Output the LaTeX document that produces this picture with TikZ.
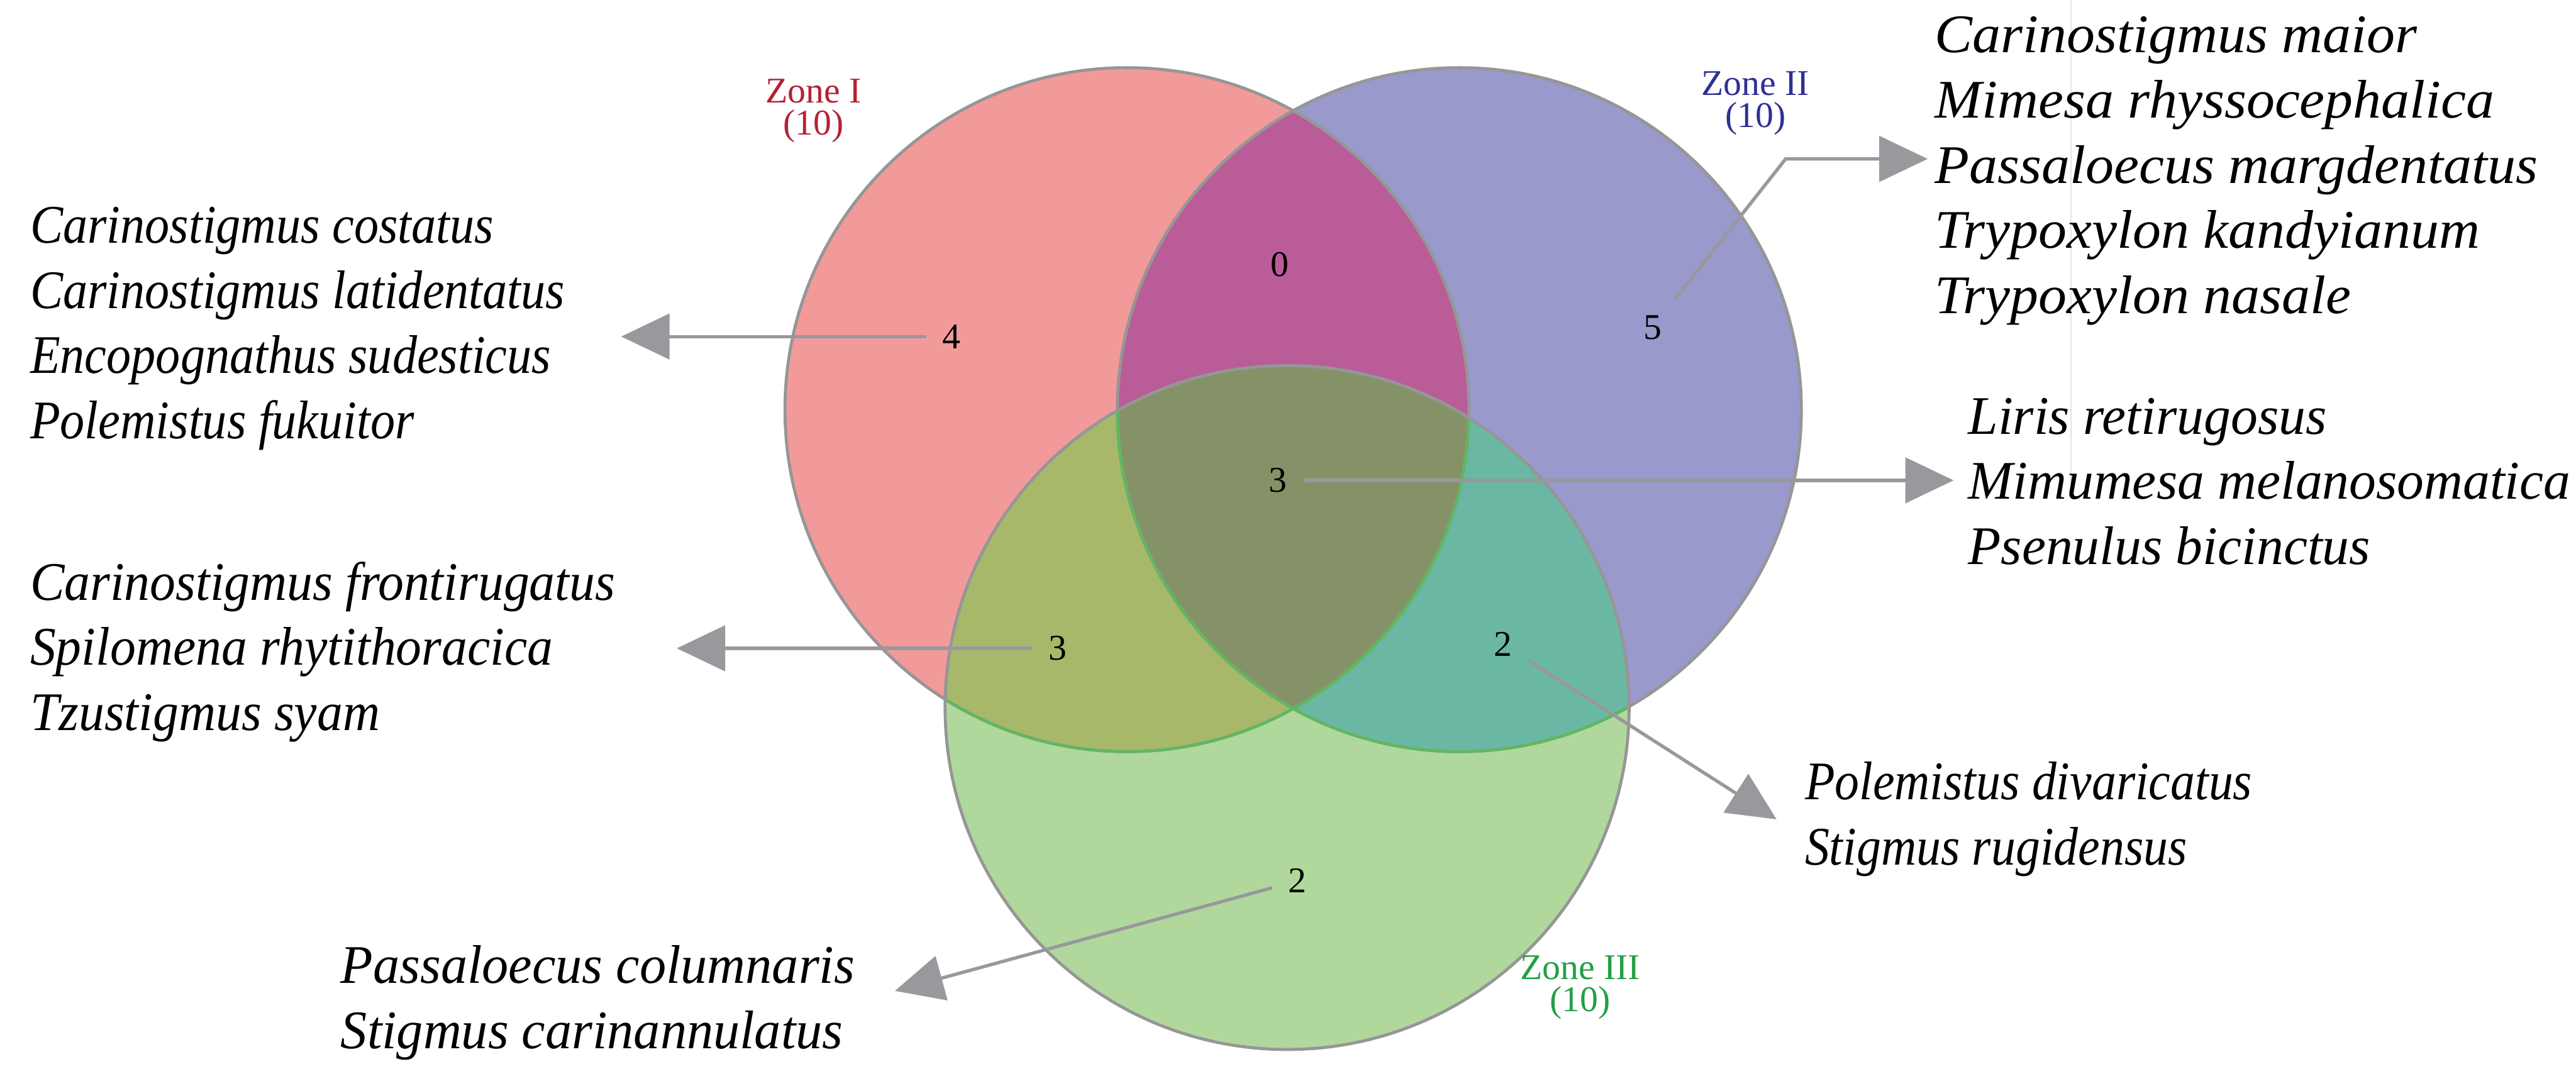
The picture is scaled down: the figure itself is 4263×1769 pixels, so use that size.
\documentclass[tikz,border=0pt]{standalone}
\usepackage{fontspec}
\setmainfont{Liberation Serif}
\newfontfamily\spA[FakeStretch=0.905]{Liberation Serif Italic}
\newfontfamily\spB[FakeStretch=0.945]{Liberation Serif Italic}
\newfontfamily\spC[FakeStretch=0.975]{Liberation Serif Italic}
\newfontfamily\spD[FakeStretch=1.04]{Liberation Serif Italic}
\newfontfamily\spE[FakeStretch=0.99]{Liberation Serif Italic}
\newfontfamily\spF[FakeStretch=0.9]{Liberation Serif Italic}
\usetikzlibrary{arrows.meta}
\definecolor{cRed}{RGB}{242,154,154}
\definecolor{cBlue}{RGB}{153,153,204}
\definecolor{cGreen}{RGB}{176,216,156}
\definecolor{cRB}{RGB}{186,92,152}
\definecolor{cRG}{RGB}{168,184,106}
\definecolor{cBG}{RGB}{106,184,164}
\definecolor{cRBG}{RGB}{133,146,104}
\definecolor{edgeGray}{RGB}{150,150,150}
\definecolor{edgeGreen}{RGB}{98,182,98}
\definecolor{arrowGray}{RGB}{152,152,157}
\definecolor{faintGray}{RGB}{228,228,228}
\definecolor{zRed}{RGB}{178,34,52}
\definecolor{zBlue}{RGB}{46,49,146}
\definecolor{zGreen}{RGB}{34,160,70}
\begin{document}
\begin{tikzpicture}[x=0.1pt,y=-0.1pt,
  num/.style={font=\fontsize{6}{7}\selectfont, inner sep=2.5pt},
  zone/.style={font=\fontsize{6}{5.3}\selectfont, align=center, inner sep=0pt},
  species/.style={font=#1\fontsize{9}{10.8}\selectfont, align=left, anchor=west, inner sep=0pt},
  conn/.style={draw=arrowGray, line width=0.55pt, -{Triangle[length=8pt,width=7.5pt]}},
  outline/.style={line width=0.5pt},
]
\useasboundingbox (0,0) rectangle (4263,1769);
\fill[white] (0,0) rectangle (4263,1769);
\draw[faintGray, line width=0.25pt] (3427,0) -- (3427,800);

\coordinate (cI) at (1865,678);
\coordinate (cII) at (2415,678);
\coordinate (cIII) at (2130,1171);

% single regions
\fill[cRed] (cI) circle[radius=56.6pt];
\fill[cBlue] (cII) circle[radius=56.6pt];
\fill[cGreen] (cIII) circle[radius=56.6pt];
% pairwise overlaps
\begin{scope}
  \clip (cI) circle[radius=56.6pt];
  \fill[cRB] (cII) circle[radius=56.6pt];
  \fill[cRG] (cIII) circle[radius=56.6pt];
\end{scope}
\begin{scope}
  \clip (cII) circle[radius=56.6pt];
  \fill[cBG] (cIII) circle[radius=56.6pt];
\end{scope}
% triple overlap
\begin{scope}
  \clip (cI) circle[radius=56.6pt];
  \clip (cII) circle[radius=56.6pt];
  \fill[cRBG] (cIII) circle[radius=56.6pt];
\end{scope}
% outlines
\draw[edgeGray, outline] (cI) circle[radius=56.6pt] (cII) circle[radius=56.6pt] (cIII) circle[radius=56.6pt];
\begin{scope}
  \clip (cIII) circle[radius=56.3pt];
  \draw[edgeGreen, outline] (cI) circle[radius=56.6pt] (cII) circle[radius=56.6pt];
\end{scope}

% zone labels
\node[zone, text=zRed] (zI) at (1346,183) {Zone I\\(10)};
\node[zone, text=zBlue] (zII) at (2905,171) {Zone II\\(10)};
\node[zone, text=zGreen] (zIII) at (2615,1634) {Zone III\\(10)};

% counts
\node[num] (n0) at (2118,438) {0};
\node[num] (n4) at (1575,557) {4};
\node[num] (n5) at (2735,542) {5};
\node[num] (n3c) at (2115,795) {3};
\node[num] (n3l) at (1750,1073) {3};
\node[num] (n2r) at (2487,1066) {2};
\node[num] (n2b) at (2147,1458) {2};

% species lists
\node[species=\spA] (lA) at (48,544) {Carinostigmus costatus\\Carinostigmus latidentatus\\Encopognathus sudesticus\\Polemistus fukuitor};
\node[species=\spB] (lB) at (48,1079) {Carinostigmus frontirugatus\\Spilomena rhytithoracica\\Tzustigmus syam};
\node[species=\spC] (lC) at (562,1660) {Passaloecus columnaris\\Stigmus carinannulatus};
\node[species=\spD] (lD) at (3200,283) {Carinostigmus maior\\Mimesa rhyssocephalica\\Passaloecus margdentatus\\Trypoxylon kandyianum\\Trypoxylon nasale};
\node[species=\spE] (lE) at (3255,797) {Liris retirugosus\\Mimumesa melanosomatica\\Psenulus bicinctus};
\node[species=\spF] (lF) at (2985,1356) {Polemistus divaricatus\\Stigmus rugidensus};

% arrow tips and bend
\coordinate (tA) at (1028,557);
\coordinate (tB) at (1120,1073);
\coordinate (tC) at (1481,1640);
\coordinate (b5) at (2955,263);
\coordinate (tD) at (3190,263);
\coordinate (tE) at (3233,795);
\coordinate (tF) at (2940,1356);

\draw[conn] (n4) -- (tA);
\draw[conn] (n3l) -- (tB);
\draw[conn] (n2b) -- (tC);
\draw[conn] (n5) -- (b5) -- (tD);
\draw[conn] (n3c) -- (tE);
\draw[conn] (n2r) -- (tF);
\end{tikzpicture}
\end{document}
